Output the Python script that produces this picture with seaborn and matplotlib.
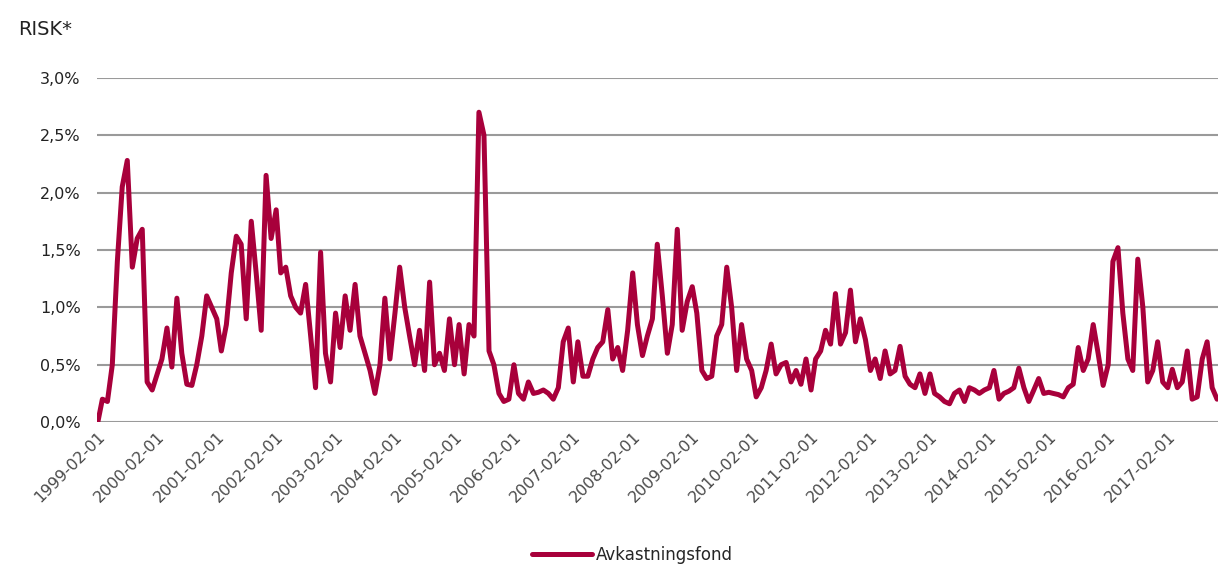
import pandas as pd
import numpy as np
import matplotlib
matplotlib.use("Agg")
import matplotlib.pyplot as plt
import matplotlib.ticker as mticker
import seaborn as sns

# monthly risk (%), starting 1999-02-01
start = "1999-02-01"
risk = [
    0.0, 0.2, 0.18, 0.5, 1.4, 2.05, 2.28, 1.35, 1.6, 1.68,
    0.35, 0.28, 0.42, 0.55, 0.82, 0.48, 1.08, 0.6, 0.33, 0.32,
    0.5, 0.75, 1.1, 1.0, 0.9, 0.62, 0.85, 1.3, 1.62, 1.55,
    0.9, 1.75, 1.3, 0.8, 2.15, 1.6, 1.85, 1.3, 1.35, 1.1,
    1.0, 0.95, 1.2, 0.75, 0.3, 1.48, 0.6, 0.35, 0.95, 0.65,
    1.1, 0.8, 1.2, 0.75, 0.6, 0.45, 0.25, 0.5, 1.08, 0.55,
    0.95, 1.35, 1.0, 0.75, 0.5, 0.8, 0.45, 1.22, 0.5, 0.6,
    0.45, 0.9, 0.5, 0.85, 0.42, 0.85, 0.75, 2.7, 2.5, 0.62,
    0.5, 0.25, 0.18, 0.2, 0.5, 0.25, 0.2, 0.35, 0.25, 0.26,
    0.28, 0.25, 0.2, 0.3, 0.7, 0.82, 0.35, 0.7, 0.4, 0.4,
    0.55, 0.65, 0.7, 0.98, 0.55, 0.65, 0.45, 0.8, 1.3, 0.85,
    0.58, 0.75, 0.9, 1.55, 1.1, 0.6, 0.85, 1.68, 0.8, 1.05,
    1.18, 0.95, 0.45, 0.38, 0.4, 0.75, 0.85, 1.35, 1.0, 0.45,
    0.85, 0.55, 0.45, 0.22, 0.3, 0.45, 0.68, 0.42, 0.5, 0.52,
    0.35, 0.45, 0.33, 0.55, 0.28, 0.55, 0.62, 0.8, 0.68, 1.12,
    0.68, 0.78, 1.15, 0.7, 0.9, 0.72, 0.45, 0.55, 0.38, 0.62,
    0.42, 0.45, 0.66, 0.4, 0.33, 0.3, 0.42, 0.25, 0.42, 0.25,
    0.22, 0.18, 0.16, 0.25, 0.28, 0.18, 0.3, 0.28, 0.25, 0.28,
    0.3, 0.45, 0.2, 0.25, 0.27, 0.3, 0.47, 0.3, 0.18, 0.28,
    0.38, 0.25, 0.26, 0.25, 0.24, 0.22, 0.3, 0.33, 0.65, 0.45,
    0.55, 0.85, 0.6, 0.32, 0.5, 1.4, 1.52, 0.95, 0.55, 0.45,
    1.42, 1.0, 0.35, 0.45, 0.7, 0.35, 0.3, 0.46, 0.3, 0.35,
    0.62, 0.2, 0.22, 0.55, 0.7, 0.3, 0.2,
]
tick_labels = ["%d-02-01" % y for y in range(1999, 2018)]
y_ticks = [0.0, 0.5, 1.0, 1.5, 2.0, 2.5, 3.0]

df = pd.DataFrame({"date": pd.date_range(start, periods=len(risk), freq="MS"),
                   "risk": risk})

sns.set_style("white")
plt.rcParams["font.family"] = ["DejaVu Sans"]

red = "#A8003B"

fig = plt.figure(figsize=(12.3, 5.72), dpi=100)
ax = fig.add_axes([0.079, 0.262, 0.911, 0.602])

sns.lineplot(data=df, x="date", y="risk", color=red, linewidth=3.6,
             label="Avkastningsfond", ax=ax, legend=False)

ax.set_ylim(0, 3.0)
ax.set_yticks(y_ticks)
ax.yaxis.set_major_formatter(mticker.FuncFormatter(
    lambda v, p: ("%.1f%%" % v).replace(".", ",")))
ax.set_xticks(pd.to_datetime(tick_labels))
ax.set_xticklabels(tick_labels, rotation=45, ha="right",
                   rotation_mode="anchor", color="#4a4a4a", fontsize=11.5)
ax.set_xlim(df["date"].iloc[0] - pd.Timedelta(days=4),
            df["date"].iloc[-1] + pd.Timedelta(days=4))
ax.tick_params(axis="y", labelsize=11.5, length=0, pad=12, colors="#222222")
ax.tick_params(axis="x", length=0, pad=5)
ax.set_xlabel("")
ax.set_ylabel("")
ax.grid(axis="y", color="#9a9a9a", linewidth=1.5)
ax.set_axisbelow(True)
for s in ax.spines.values():
    s.set_visible(False)

fig.text(0.0146, 0.939, "RISK*", fontsize=14, color="#222222", va="baseline")

handles, labels = ax.get_legend_handles_labels()
fig.legend(handles, labels, loc="center", bbox_to_anchor=(0.514, 0.03),
           frameon=False, fontsize=12, handlelength=3.6, handletextpad=0.2)

fig.savefig("out.png", dpi=100)
